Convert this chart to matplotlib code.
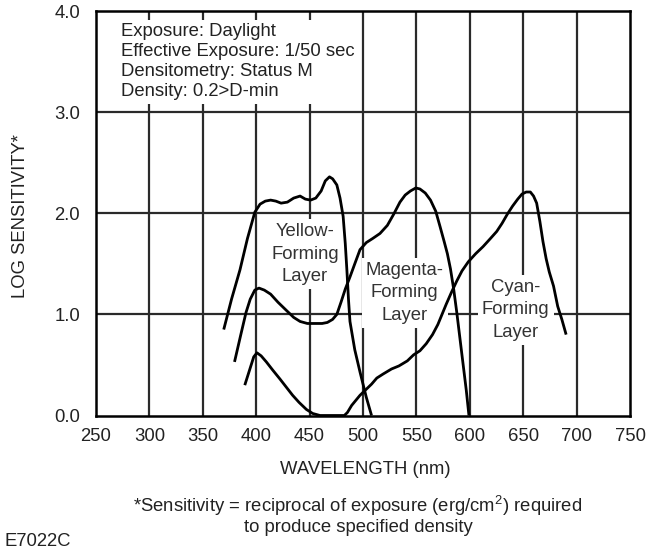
import matplotlib
matplotlib.use("Agg")
import matplotlib.pyplot as plt
from matplotlib.patches import Rectangle

plt.rcParams['font.family'] = ['Liberation Sans', 'DejaVu Sans']
plt.rcParams['mathtext.fontset'] = 'custom'
plt.rcParams['mathtext.rm'] = 'Liberation Sans'
plt.rcParams['mathtext.it'] = 'Liberation Sans'

# ---- data (wavelength nm, log sensitivity) ----
yellow_nm = [369.6, 376.9, 384.8, 391.8, 398.7, 403.6, 408.5, 413.5, 418.4, 423.3, 429.2, 435.1,
             441.1, 446.0, 450.9, 455.8, 460.8, 464.7, 468.6, 471.6, 475.5, 478.5, 481.4, 483.4,
             484.9, 486.4, 487.8, 492.3, 497.2, 503.1, 508.0]
yellow_val = [0.85, 1.15, 1.44, 1.75, 2.01, 2.09, 2.12, 2.13, 2.12, 2.10, 2.11, 2.15,
              2.17, 2.14, 2.13, 2.15, 2.22, 2.32, 2.36, 2.34, 2.28, 2.15, 1.97, 1.70,
              1.44, 1.15, 0.93, 0.65, 0.43, 0.18, 0.0]

magenta_nm = [379.7, 385.6, 390.5, 394.4, 398.7, 402.6, 407.6, 413.5, 420.4, 428.2, 435.1, 441.1,
              447.9, 454.8, 461.7, 466.6, 471.5, 475.5, 479.4, 483.4, 487.8, 492.3, 497.2, 503.1,
              509.0, 515.9, 522.8, 528.7, 534.6, 539.5, 544.4, 549.4, 553.3, 558.3, 563.2, 568.1,
              572.1, 576.0, 579.0, 581.9, 584.9, 587.8, 590.8, 593.8, 596.7, 599.2]
magenta_val = [0.53, 0.80, 1.02, 1.15, 1.24, 1.26, 1.24, 1.20, 1.12, 1.04, 0.97, 0.93,
               0.91, 0.91, 0.91, 0.92, 0.95, 1.00, 1.12, 1.25, 1.37, 1.50, 1.64, 1.71,
               1.75, 1.80, 1.88, 1.99, 2.11, 2.18, 2.22, 2.25, 2.24, 2.20, 2.13, 2.02,
               1.87, 1.72, 1.60, 1.45, 1.25, 1.02, 0.76, 0.50, 0.25, 0.0]

cyan_nm = [389.3, 393.8, 397.7, 400.7, 404.6, 409.5, 415.4, 422.3, 428.2, 434.1, 440.1, 447.0,
           452.9, 459.8, 472.6, 482.5, 485.4, 489.4, 493.3, 497.2, 503.1, 508.0, 512.9, 518.8,
           526.7, 533.6, 541.5, 547.4, 553.3, 559.2, 565.1, 570.1, 574.0, 577.9, 582.9, 587.8,
           592.7, 598.6, 605.5, 612.4, 619.3, 625.2, 630.2, 635.1, 640.0, 644.9, 648.9, 652.8,
           656.7, 659.7, 662.6, 665.6, 668.5, 671.5, 674.4, 678.4, 682.3, 686.2, 690.2]
cyan_val = [0.30, 0.45, 0.58, 0.62, 0.59, 0.53, 0.45, 0.36, 0.28, 0.20, 0.13, 0.06,
            0.02, 0.0, 0.0, 0.0, 0.03, 0.10, 0.15, 0.20, 0.26, 0.31, 0.37, 0.41,
            0.46, 0.49, 0.54, 0.60, 0.64, 0.71, 0.80, 0.90, 1.00, 1.10, 1.22, 1.33,
            1.43, 1.52, 1.60, 1.67, 1.75, 1.82, 1.90, 1.99, 2.07, 2.14, 2.19, 2.21,
            2.21, 2.17, 2.10, 1.92, 1.72, 1.55, 1.42, 1.28, 1.08, 0.95, 0.80]

x_ticks = [250, 300, 350, 400, 450, 500, 550, 600, 650, 700, 750]
y_ticks = [0.0, 1.0, 2.0, 3.0, 4.0]
y_tick_labels = ["0.0", "1.0", "2.0", "3.0", "4.0"]

info_lines = ["Exposure: Daylight", "Effective Exposure: 1/50 sec",
              "Densitometry: Status M", "Density: 0.2>D-min"]
layer_labels = ["Yellow-\nForming\nLayer", "Magenta-\nForming\nLayer", "Cyan-\nForming\nLayer"]
layer_label_pos = [(445.7, 1.595), (539.0, 1.214), (643.0, 1.045)]

FS = 13.3
TXT = '#222222'

# ---- figure ----
fig = plt.figure(figsize=(6.63, 5.5), dpi=100)
ax = fig.add_axes([96 / 663, 1 - 415.5 / 550, 534 / 663, 404.5 / 550])
ax.set_xlim(250, 750)
ax.set_ylim(0, 4)

gcol = '#2a2a2a'
for xv in x_ticks[1:-1]:
    ax.axvline(xv, color=gcol, lw=1.6, zorder=1)
for yv in y_ticks[1:-1]:
    ax.axhline(yv, color=gcol, lw=1.6, zorder=1)

# white info box region (leaves short stubs of the grid)
ax.add_patch(Rectangle((251, 3.085), 247.5, 0.83, facecolor='white', edgecolor='none', zorder=1.5))
ax.text(273.4, 3.88, "\n".join(info_lines), fontsize=FS, va='top', ha='left',
        linespacing=1.22, color=TXT, zorder=2)

for lab, (xx, yy) in zip(layer_labels, layer_label_pos):
    ax.text(xx, yy, lab, fontsize=FS, ha='center', va='center', multialignment='center',
            linespacing=1.43, color='#333333', zorder=2.5,
            bbox=dict(boxstyle='square,pad=0.22', facecolor='white', edgecolor='none'))

for xs, ys in [(yellow_nm, yellow_val), (magenta_nm, magenta_val), (cyan_nm, cyan_val)]:
    ax.plot(xs, ys, color='black', lw=2.0, solid_capstyle='butt', solid_joinstyle='round',
            zorder=3, clip_on=True)

ax.set_xticks(x_ticks)
ax.set_yticks(y_ticks)
ax.set_yticklabels(y_tick_labels)
ax.tick_params(length=0, labelsize=FS, colors=TXT)
ax.tick_params(axis='x', pad=9)
ax.tick_params(axis='y', pad=11.5)
for s in ax.spines.values():
    s.set_linewidth(1.8)
    s.set_color('black')
    s.set_zorder(4)

fig.text(21 / 663, 1 - 216 / 550, "LOG SENSITIVITY*", rotation=90, ha='center', va='center',
         fontsize=FS, color=TXT)
fig.text(365 / 663, 1 - 469 / 550, "WAVELENGTH (nm)", ha='center', va='center',
         fontsize=FS, color=TXT)
fig.text(358 / 663, 1 - 506 / 550, "*Sensitivity = reciprocal of exposure (erg/cm$^{2}$) required",
         ha='center', va='center', fontsize=FS, color=TXT)
fig.text(358 / 663, 1 - 527 / 550, "to produce specified density",
         ha='center', va='center', fontsize=FS, color=TXT)
fig.text(4 / 663, 1 - 541 / 550, "E7022C", ha='left', va='center', fontsize=FS, color=TXT)

fig.savefig("out.png", dpi=100)
